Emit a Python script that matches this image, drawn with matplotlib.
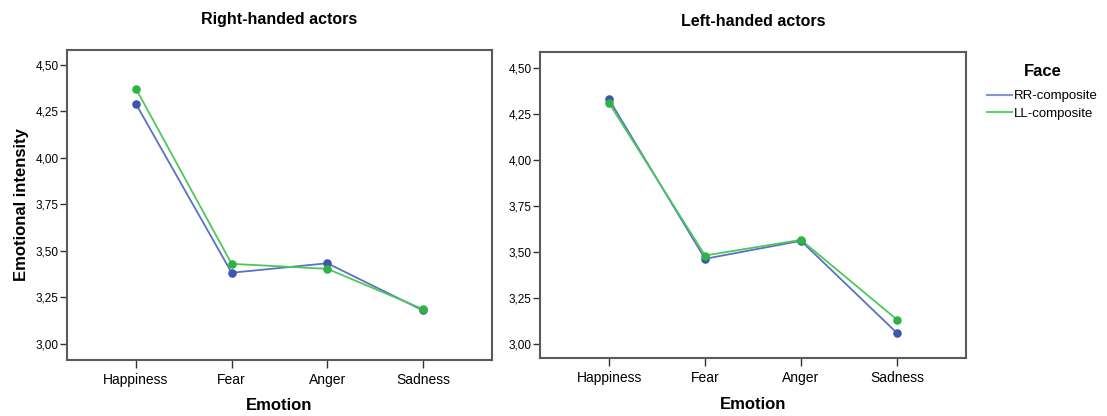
import matplotlib
matplotlib.use("Agg")
import matplotlib.pyplot as plt
from matplotlib.lines import Line2D
from matplotlib.ticker import FuncFormatter

plt.rcParams['font.family'] = ['Liberation Sans', 'DejaVu Sans']

emotions = ["Happiness", "Fear", "Anger", "Sadness"]
yticks = [3.00, 3.25, 3.50, 3.75, 4.00, 4.25, 4.50]

# mean emotional intensity per composite face
right_rr = [4.29, 3.381, 3.432, 3.178]
right_ll = [4.372, 3.429, 3.402, 3.185]
left_rr = [4.33, 3.462, 3.560, 3.058]
left_ll = [4.31, 3.480, 3.565, 3.131]

blue_pt, blue_ln = '#3F56AE', '#5C70C4'
green_pt, green_ln = '#2DB443', '#4CC95A'
frame = '#5a5a5a'

fig = plt.figure(figsize=(11.07, 4.16), dpi=100)
W, H = 1107, 416
ax1 = fig.add_axes([67 / W, 1 - 359.5 / H, 425 / W, 309.5 / H])
ax2 = fig.add_axes([540 / W, 1 - 358.3 / H, 426 / W, 306 / H])

fmt = FuncFormatter(lambda v, p: ("%.2f" % v).replace(".", ","))

for ax, rr, ll, title, ylim in [
    (ax1, right_rr, right_ll, "Right-handed actors", (2.914, 4.58)),
    (ax2, left_rr, left_ll, "Left-handed actors", (2.92, 4.587)),
]:
    x = range(len(emotions))
    ax.plot(x, rr, color=blue_ln, lw=1.3, zorder=2)
    ax.plot(x, ll, color=green_ln, lw=1.3, zorder=2)
    ax.scatter(x, rr, s=38, color=blue_pt, zorder=3, linewidths=0)
    ax.scatter(x, ll, s=38, color=green_pt, zorder=4, linewidths=0)
    ax.set_xlim(-0.72, 3.72)
    ax.set_ylim(*ylim)
    ax.set_xticks(list(x))
    ax.set_xticklabels(emotions, fontsize=10)
    ax.set_yticks(yticks)
    ax.yaxis.set_major_formatter(fmt)
    ax.tick_params(axis='y', labelsize=8.5, length=5, width=1, color='#333333', pad=1)
    ax.tick_params(axis='x', length=6, width=1, color='#333333', pad=3.5)
    for s in ax.spines.values():
        s.set_color(frame)
        s.set_linewidth(1.5)
    ax.set_title(title, fontsize=11.5, fontweight='bold', pad=19)
    ax.set_xlabel("Emotion", fontsize=12, fontweight='bold', labelpad=8.5)

ax1.set_ylabel("Emotional intensity", fontsize=12, fontweight='bold', labelpad=5)

handles = [Line2D([0], [0], color='#8193DA', lw=1.5),
           Line2D([0], [0], color='#5BD468', lw=1.5)]
leg = fig.legend(handles, ["RR-composite", "LL-composite"], loc='upper left',
                 bbox_to_anchor=(975 / W, 1 - 52 / H), frameon=False,
                 title="Face", fontsize=9.5, handlelength=1.9, handletextpad=0.15,
                 labelspacing=0.4)
leg.get_title().set_fontweight('bold')
leg.get_title().set_fontsize(12)
leg._legend_box.sep = 8

fig.savefig("out.png", dpi=100)
